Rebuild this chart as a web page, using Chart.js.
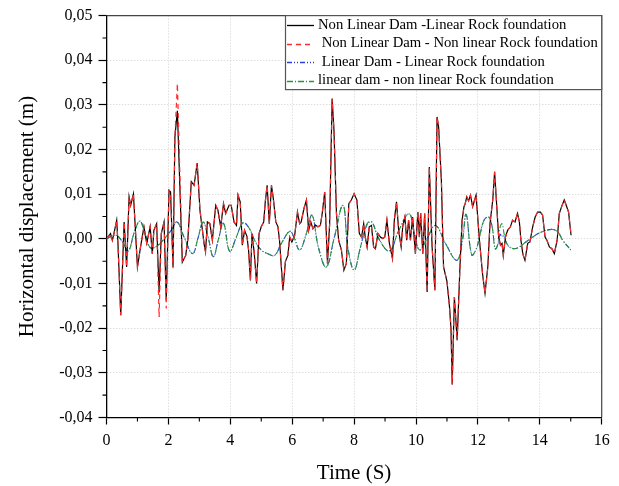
<!DOCTYPE html>
<html><head><meta charset="utf-8">
<script src="https://cdn.jsdelivr.net/npm/chart.js@4.4.1/dist/chart.umd.min.js"></script>
<style>html,body{margin:0;padding:0;background:#fff;overflow:hidden}#wrap{width:619px;height:486px;position:relative}</style>
</head><body><div id="wrap"><canvas id="c" width="619" height="486"></canvas></div>
<script>
// ---- data ----
const timeNonLinearDam = [0,0.13,0.19,0.24,0.33,0.37,0.46,0.57,0.65,0.73,
0.78,0.87,1.00,1.10,1.21,1.30,1.41,1.48,1.53,1.62,
1.70,1.77,1.86,1.93,2.02,2.07,2.15,2.21,2.29,2.45,
2.56,2.63,2.74,2.83,2.93,3.02,3.10,3.15,3.20,3.26,
3.34,3.42,3.53,3.60,3.69,3.78,3.85,3.96,4.03,4.12,
4.20,4.25,4.32,4.39,4.46,4.54,4.59,4.65,4.70,4.77,
4.85,4.93,5.00,5.08,5.13,5.19,5.26,5.33,5.39,5.47,
5.54,5.59,5.65,5.70,5.78,5.86,5.92,5.99,6.08,6.17,
6.24,6.29,6.38,6.46,6.53,6.60,6.67,6.75,6.83,6.91,
6.97,7.05,7.14,7.21,7.29,7.35,7.43,7.50,7.59,7.67,
7.75,7.83,7.91,8.00,8.09,8.17,8.24,8.31,8.36,8.42,
8.49,8.56,8.63,8.69,8.77,8.85,8.92,8.99,9.06,9.14,
9.24,9.30,9.37,9.44,9.52,9.57,9.64,9.70,9.76,9.82,
9.89,9.98,10.06,10.11,10.15,10.22,10.28,10.36,10.43,10.52,
10.61,10.68,10.73,10.82,10.89,11.00,11.08,11.13,11.17,11.24,
11.33,11.42,11.49,11.55,11.59,11.64,11.70,11.76,11.83,11.94,
12.05,12.15,12.23,12.32,12.39,12.48,12.54,12.61,12.67,12.73,
12.78,12.82,12.89,12.96,13.05,13.12,13.20,13.28,13.34,13.39,
13.45,13.52,13.61,13.68,13.77,13.85,13.93,14.02,14.09,14.17,
14.23,14.31,14.39,14.47,14.56,14.63,14.72,14.79,14.87,14.93,
15.01];

const nlDamLinRock = [0,0.0012,-0.0003,0.0012,0.0042,-0.001,-0.0171,0.0038,-0.0063,0.0094,
0.0075,0.0101,-0.0063,-0.0018,0.0027,-0.001,0.0027,-0.0033,0.0019,0.0034,
-0.012,0.0012,0.0038,-0.0137,0.0109,0.0105,-0.0063,0.0228,0.0287,-0.0052,
-0.0037,0.0,0.0128,0.012,0.017,0.0064,0.0019,-0.001,-0.0029,0.0038,
0.0034,-0.0003,0.0075,0.0064,0.0027,0.0079,0.0057,0.0075,0.0075,0.0038,
0.003,0.0098,0.0083,-0.0014,0.0019,0.0005,-0.0025,-0.0093,0.0012,-0.0029,
-0.01,0.0012,0.0027,0.0038,0.0083,0.012,0.0034,0.012,0.009,0.0038,
0.0027,-0.0003,-0.0063,-0.0115,-0.0051,-0.0037,0.0004,-0.0007,0.0008,0.006,
0.0034,0.0038,0.0068,0.0087,0.0019,0.0038,0.0023,0.0031,0.0027,0.003,
0.0057,0.0105,-0.0055,0.0034,0.0314,0.0243,0.0057,-0.0003,-0.0025,-0.007,
-0.0055,0.0079,0.0087,0.0101,0.0087,0.0012,0.0004,0.0034,0.0004,-0.0018,
0.0027,0.003,-0.0018,-0.0022,0.0012,0.0004,0.0001,0.0004,0.0042,-0.001,
-0.0044,0.0042,0.0083,0.0019,-0.0018,0.0027,0.0049,-0.0003,0.0042,-0.0003,
0.0049,-0.0033,0.006,0.0004,0.0058,-0.0033,0.0057,-0.0119,0.0161,-0.0018,
-0.0115,0.0273,0.0251,0.0131,-0.0063,-0.0095,-0.015,-0.02,-0.0326,-0.013,
-0.0227,-0.0063,0.0042,0.0072,0.0079,0.0094,0.0085,0.0098,0.0072,0.0098,
-0.0003,-0.0078,-0.0122,-0.0063,0.0034,0.0087,0.015,0.0072,0.0004,-0.0014,
-0.001,-0.0037,0.0004,0.0019,0.0027,0.0042,0.0038,0.0057,0.0038,-0.0003,
-0.0033,-0.0048,-0.001,-0.0007,0.0027,0.0049,0.006,0.006,0.0053,0.0004,
-0.0003,-0.0018,-0.0022,-0.0033,-0.0003,0.0057,0.0075,0.0087,0.0072,0.006,
0.0008];

const nlDamNlRock = [0,0.0012,-0.0003,0.0012,0.0042,-0.001,-0.0171,0.0038,-0.0063,0.0094,
0.0075,0.0101,-0.0063,-0.0018,0.0027,-0.001,0.0027,-0.0033,0.0019,0.0034,
-0.0175,0.0012,0.0038,-0.0156,0.0109,0.0105,-0.0066,0.0228,0.0348,-0.0052,
-0.0037,0.0,0.0128,0.012,0.017,0.0064,0.0019,-0.001,-0.0029,0.0038,
0.0034,-0.0003,0.0075,0.0064,0.0027,0.0079,0.0057,0.0075,0.0075,0.0038,
0.003,0.0098,0.0083,-0.0014,0.0019,0.0005,-0.0025,-0.0093,0.0012,-0.0029,
-0.01,0.0012,0.0027,0.0038,0.0083,0.012,0.0034,0.012,0.009,0.0038,
0.0027,-0.0003,-0.0063,-0.0115,-0.0051,-0.0037,0.0004,-0.0007,0.0008,0.006,
0.0034,0.0038,0.0068,0.0087,0.0019,0.0038,0.0023,0.0031,0.0027,0.003,
0.0057,0.0105,-0.0055,0.0034,0.0314,0.0243,0.0057,-0.0003,-0.0025,-0.007,
-0.0055,0.0079,0.0087,0.0101,0.0087,0.0012,0.0004,0.0034,0.0004,-0.0018,
0.0027,0.003,-0.0018,-0.0022,0.0012,0.0004,0.0001,0.0004,0.0042,-0.001,
-0.0044,0.0042,0.0083,0.0019,-0.0018,0.0027,0.0049,-0.0003,0.0042,-0.0003,
0.0049,-0.0033,0.006,0.0004,0.0058,-0.0033,0.0057,-0.0119,0.0161,-0.0018,
-0.0115,0.0273,0.0251,0.0131,-0.0063,-0.0095,-0.015,-0.02,-0.0326,-0.013,
-0.0227,-0.0063,0.0042,0.0072,0.0079,0.0094,0.0085,0.0098,0.0072,0.0098,
-0.0003,-0.0078,-0.0122,-0.0063,0.0034,0.0087,0.015,0.0072,0.0004,-0.0014,
-0.001,-0.0037,0.0004,0.0019,0.0027,0.0042,0.0038,0.0057,0.0038,-0.0003,
-0.0033,-0.0048,-0.001,-0.0007,0.0027,0.0049,0.006,0.006,0.0053,0.0004,
-0.0003,-0.0018,-0.0022,-0.0033,-0.0003,0.0057,0.0075,0.0087,0.0072,0.006,
0.0008];

const timeLinearDam = [0,0.3,0.5,0.7,0.9,1.08,1.25,1.42,1.65,1.9,
2.1,2.28,2.5,2.78,2.95,3.12,3.28,3.45,3.62,3.78,
3.98,4.2,4.41,4.6,4.8,5.0,5.2,5.43,5.65,5.92,
6.05,6.24,6.45,6.64,6.85,7.1,7.35,7.64,7.8,8.0,
8.2,8.42,8.57,8.8,9.14,9.45,9.78,9.95,10.12,10.35,
10.63,10.95,11.32,11.5,11.62,11.8,11.95,12.05,12.2,12.35,
12.46,12.56,12.65,12.72,12.78,12.85,12.91,13.02,13.18,13.34,
13.55,13.77,13.98,14.2,14.42,14.58,14.74,15.0];

const linDamLinRock = [0,0.0008,-0.0005,-0.0027,0.0015,0.004,0.001,-0.002,-0.0015,0.0003,
0.002,0.0038,0.0005,-0.0033,0.0,0.0038,0.0005,-0.004,0.0,0.0035,
-0.0028,0.0005,0.0036,0.0025,-0.0005,-0.0025,-0.0033,-0.0037,-0.001,0.0017,
0.0005,-0.0025,0.001,0.0053,-0.002,-0.0063,0.0,0.0075,-0.002,-0.007,
-0.002,0.0032,0.0038,0.0,-0.0027,0.002,0.0056,0.001,-0.0025,0.0,
0.003,-0.001,-0.0048,-0.0005,0.0055,-0.0036,-0.0022,0.0004,0.0042,0.0049,
0.0027,-0.0022,-0.0012,0.001,0.0005,0.0008,-0.0007,-0.0018,-0.0022,-0.0018,
-0.0007,0.0004,0.0013,0.0019,0.0021,0.0016,-0.0003,-0.0025];

const linDamNlRock = [0,0.0008,-0.0005,-0.0027,0.0015,0.004,0.001,-0.002,-0.0015,0.0003,
0.002,0.0038,0.0005,-0.0033,0.0,0.0038,0.0005,-0.004,0.0,0.0035,
-0.0028,0.0005,0.0036,0.0025,-0.0005,-0.0025,-0.0033,-0.0037,-0.001,0.0017,
0.0005,-0.0025,0.001,0.0053,-0.002,-0.0063,0.0,0.0075,-0.002,-0.007,
-0.002,0.0034,0.0038,0.0,-0.0027,0.002,0.0056,0.001,-0.0025,0.0,
0.003,-0.001,-0.0048,0.0,0.0055,-0.0036,-0.0022,0.0004,0.0042,0.0049,
0.0027,-0.0022,-0.001,0.0027,0.0034,0.001,-0.0007,-0.0018,-0.0022,-0.0018,
-0.0007,0.0004,0.0013,0.0019,0.0021,0.0016,-0.0003,-0.0025];

const seriesLabels = [
  "Non Linear Dam -Linear Rock foundation",
  " Non Linear Dam - Non linear Rock foundation",
  " Linear Dam - Linear Rock foundation",
  "linear dam - non linear Rock foundation"
];
const xTitle = "Time (S)";
const yTitle = "Horizontal displacement (m)";

// ---- chart ----
const FONT = "'Liberation Serif','Times New Roman',serif";
const pts = (xs, ys) => xs.map((x, i) => ({x: x, y: ys[i]}));

const extras = {
  id: 'extras',
  afterDraw(chart) {
    const ctx = chart.ctx, a = chart.chartArea;
    const xs = chart.scales.x, ys = chart.scales.y;
    ctx.save();
    // frame top/right
    ctx.strokeStyle = '#444'; ctx.lineWidth = 1.2; ctx.setLineDash([]);
    ctx.beginPath();
    ctx.moveTo(a.left, a.top); ctx.lineTo(a.right, a.top); ctx.lineTo(a.right, a.bottom);
    ctx.stroke();
    // minor ticks
    ctx.strokeStyle = '#000'; ctx.lineWidth = 1.1;
    ctx.beginPath();
    for (let v = 1; v < 16; v += 2) {
      const px = xs.getPixelForValue(v);
      ctx.moveTo(px, a.bottom); ctx.lineTo(px, a.bottom + 4);
    }
    for (let k = -7; k <= 9; k += 2) {
      const py = ys.getPixelForValue(k * 0.005);
      ctx.moveTo(a.left, py); ctx.lineTo(a.left - 4, py);
    }
    ctx.stroke();
    // legend box
    const bx = 285.5, by = a.top, bw = a.right - bx, bh = 74;
    ctx.fillStyle = '#fff';
    ctx.fillRect(bx, by, bw, bh);
    ctx.strokeStyle = '#555'; ctx.lineWidth = 1.2;
    ctx.strokeRect(bx, by, bw, bh);
    const rows = [25, 43.5, 62, 80.5];
    ctx.font = "14.7px " + FONT;
    ctx.textBaseline = 'middle';
    ctx.textAlign = 'left';
    chart.data.datasets.forEach((ds, i) => {
      const y = Math.round(rows[i]) + 0.5;
      ctx.strokeStyle = ds.borderColor;
      ctx.lineWidth = 1.3;
      ctx.setLineDash(ds.borderDash || []);
      ctx.beginPath(); ctx.moveTo(287, y); ctx.lineTo(314, y); ctx.stroke();
      ctx.setLineDash([]);
      ctx.fillStyle = '#000';
      ctx.fillText(ds.label, 318, rows[i]);
    });
    ctx.restore();
  }
};

new Chart(document.getElementById('c'), {
  type: 'line',
  data: {
    datasets: [
      {label: seriesLabels[0], data: pts(timeNonLinearDam, nlDamLinRock), borderColor: '#000000', borderWidth: 1.2, borderDash: [], pointRadius: 0, tension: 0, order: 2},
      {label: seriesLabels[1], data: pts(timeNonLinearDam, nlDamNlRock), borderColor: '#ff2a2a', borderWidth: 1.2, borderDash: [5, 4], pointRadius: 0, tension: 0, order: 1},
      {label: seriesLabels[2], data: pts(timeLinearDam, linDamLinRock), borderColor: '#2b44d6', borderWidth: 1.1, borderDash: [5, 2, 1, 2, 1, 2], pointRadius: 0, tension: 0.4, order: 4},
      {label: seriesLabels[3], data: pts(timeLinearDam, linDamNlRock), borderColor: '#23973a', borderWidth: 1.1, borderDash: [6, 2, 1, 2], pointRadius: 0, tension: 0.4, order: 3}
    ]
  },
  options: {
    responsive: false,
    animation: false,
    devicePixelRatio: 1,
    layout: {padding: {left: 0, right: 17.3, top: 15, bottom: 0}},
    plugins: {legend: {display: false}, tooltip: {enabled: false}},
    scales: {
      x: {
        type: 'linear', min: 0, max: 16,
        ticks: {stepSize: 2, color: '#000', font: {family: FONT, size: 16}, padding: 7, maxRotation: 0},
        grid: {color: '#cfcfcf', lineWidth: 1, tickColor: '#000', tickLength: 7, tickWidth: 1.2, tickBorderDash: []},
        border: {display: true, color: '#000', width: 1.3, dash: [1, 2]},
        title: {display: true, text: xTitle, color: '#000', font: {family: FONT, size: 21}, padding: {top: 0, bottom: 0}},
        afterFit(s) { s.height = 68.5; }
      },
      y: {
        type: 'linear', min: -0.04, max: 0.05,
        ticks: {stepSize: 0.01, color: '#000', font: {family: FONT, size: 16}, padding: 6,
          callback: v => { const r = Math.round(v * 100) / 100; return (r === 0 ? 0 : r).toFixed(2).replace('.', ','); }},
        grid: {color: '#cfcfcf', lineWidth: 1, tickColor: '#000', tickLength: 8, tickWidth: 1.2, tickBorderDash: []},
        border: {display: true, color: '#000', width: 1.3, dash: [1, 2]},
        title: {display: true, text: yTitle, color: '#000', font: {family: FONT, size: 21}, padding: {top: 15, bottom: 0}},
        afterFit(s) { s.width = 106.5; }
      }
    }
  },
  plugins: [extras]
});
</script></body></html>
